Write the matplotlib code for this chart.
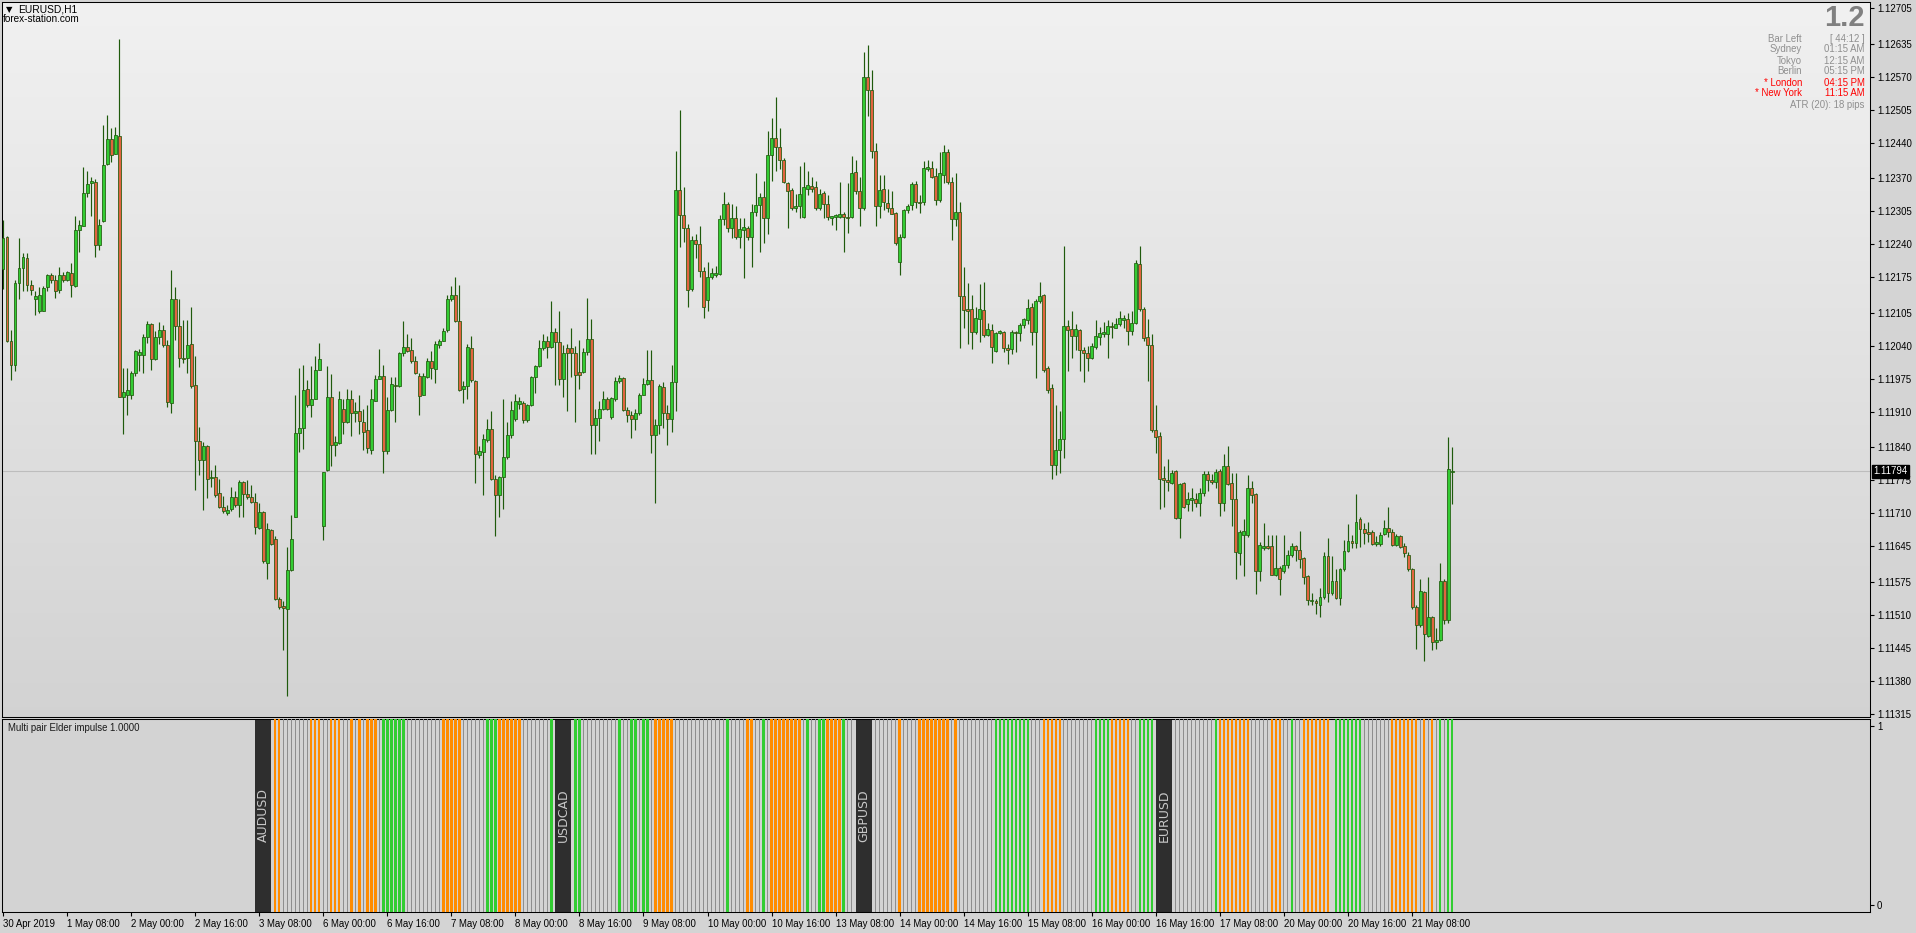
import numpy as np
import matplotlib
matplotlib.use("Agg")
import matplotlib.pyplot as plt

# ---------------- data (EURUSD H1, prices) ----------------
open_ = [1.12192,1.12254,1.12050,1.12003,1.12164,1.12194,1.12212,1.12159,1.12133,1.12108,1.12109,1.12156,1.12179,1.12170,1.12149,1.12180,1.12170,1.12183,1.12157,1.12268,
1.12276,1.12341,1.12360,1.12363,1.12238,1.12286,1.12397,1.12447,1.12417,1.12453,1.11940,1.11944,1.11944,1.11987,1.12021,1.12021,1.12057,1.12082,1.12013,1.12058,
1.12071,1.12042,1.11928,1.12132,1.12079,1.12015,1.12015,1.12043,1.11963,1.11852,1.11816,1.11842,1.11780,1.11781,1.11750,1.11722,1.11711,1.11718,1.11743,1.11727,
1.11772,1.11748,1.11742,1.11732,1.11682,1.11712,1.11613,1.11677,1.11659,1.11541,1.11527,1.11521,1.11599,1.11703,1.11868,1.11878,1.11955,1.11923,1.11935,1.11993,
1.11685,1.11796,1.11939,1.11844,1.11849,1.11915,1.11889,1.11935,1.11907,1.11911,1.11890,1.11874,1.11834,1.11932,1.11974,1.11981,1.11832,1.11913,1.11963,1.11961,
1.12026,1.12037,1.12031,1.12010,1.11981,1.11944,1.11979,1.12010,1.11995,1.12042,1.12049,1.12071,1.12132,1.12140,1.12088,1.11955,1.11960,1.12035,1.11971,1.11825,
1.11830,1.11854,1.11876,1.11778,1.11746,1.11781,1.11821,1.11865,1.11895,1.11926,1.11928,1.11893,1.11923,1.11979,1.12001,1.12035,1.12050,1.12038,1.12067,1.12047,
1.11975,1.12035,1.12035,1.12026,1.11989,1.11989,1.12027,1.12054,1.11884,1.11897,1.11915,1.11935,1.11899,1.11935,1.11971,1.11976,1.11913,1.11903,1.11895,1.11907,
1.11944,1.11965,1.11973,1.11865,1.11884,1.11959,1.11908,1.11895,1.11969,1.12346,1.12298,1.12272,1.12152,1.12248,1.12240,1.12188,1.12130,1.12176,1.12180,1.12181,
1.12290,1.12320,1.12271,1.12291,1.12254,1.12268,1.12271,1.12255,1.12304,1.12318,1.12333,1.12292,1.12415,1.12449,1.12431,1.12406,1.12360,1.12347,1.12311,1.12315,
1.12294,1.12349,1.12355,1.12353,1.12311,1.12341,1.12319,1.12292,1.12294,1.12294,1.12300,1.12294,1.12294,1.12382,1.12344,1.12312,1.12570,1.12543,1.12423,1.12315,
1.12349,1.12321,1.12312,1.12302,1.12204,1.12255,1.12307,1.12318,1.12359,1.12324,1.12323,1.12389,1.12390,1.12374,1.12326,1.12377,1.12421,1.12362,1.12290,1.12303,
1.12138,1.12112,1.12112,1.12067,1.12093,1.12110,1.12061,1.12071,1.12029,1.12066,1.12067,1.12035,1.12034,1.12067,1.12066,1.12081,1.12091,1.12116,1.12067,1.12128,
1.12139,1.11997,1.11957,1.11806,1.11834,1.11856,1.12079,1.12073,1.12059,1.12071,1.12031,1.12026,1.12015,1.12038,1.12058,1.12063,1.12063,1.12079,1.12075,1.12082,
1.12091,1.12093,1.12069,1.12085,1.12201,1.12112,1.12058,1.12042,1.11874,1.11862,1.11780,1.11776,1.11770,1.11793,1.11701,1.11770,1.11728,1.11736,1.11738,1.11730,
1.11750,1.11788,1.11776,1.11772,1.11793,1.11730,1.11804,1.11770,1.11738,1.11632,1.11667,1.11667,1.11760,1.11748,1.11597,1.11641,1.11645,1.11645,1.11589,1.11603,
1.11597,1.11608,1.11629,1.11645,1.11637,1.11623,1.11587,1.11537,1.11537,1.11529,1.11545,1.11627,1.11553,1.11576,1.11543,1.11600,1.11635,1.11656,1.11651,1.11698,
1.11680,1.11674,1.11674,1.11650,1.11650,1.11670,1.11682,1.11674,1.11648,1.11666,1.11645,1.11629,1.11600,1.11525,1.11490,1.11555,1.11469,1.11505,1.11457,1.11461,
1.11576,1.11501,1.11791]
high = [1.12288,1.12256,1.12071,1.12170,1.12252,1.12222,1.12223,1.12170,1.12148,1.12156,1.12157,1.12181,1.12183,1.12180,1.12196,1.12186,1.12188,1.12202,1.12296,1.12288,
1.12392,1.12385,1.12373,1.12369,1.12289,1.12474,1.12495,1.12469,1.12471,1.12643,1.11997,1.11997,1.11991,1.12031,1.12033,1.12063,1.12088,1.12085,1.12069,1.12087,
1.12081,1.12051,1.12190,1.12156,1.12132,1.12091,1.12091,1.12116,1.12019,1.11881,1.11850,1.11844,1.11796,1.11806,1.11778,1.11744,1.11726,1.11762,1.11754,1.11775,
1.11773,1.11775,1.11766,1.11750,1.11730,1.11715,1.11691,1.11680,1.11666,1.11545,1.11537,1.11643,1.11706,1.11944,1.11997,1.12003,1.11973,1.12001,1.12019,1.12045,
1.11792,1.12001,1.11985,1.11862,1.11951,1.11935,1.11955,1.11952,1.11929,1.11943,1.11915,1.11923,1.11955,1.11983,1.12034,1.12003,1.11939,1.11979,1.11979,1.12027,
1.12089,1.12064,1.12055,1.12019,1.11987,1.11987,1.12015,1.12029,1.12050,1.12054,1.12074,1.12140,1.12158,1.12176,1.12160,1.11971,1.12043,1.12059,1.11973,1.11842,
1.11866,1.11895,1.11911,1.11786,1.11784,1.11935,1.11890,1.11931,1.11945,1.11939,1.11931,1.11926,1.11981,1.12003,1.12051,1.12063,1.12059,1.12128,1.12074,1.12109,
1.12042,1.12043,1.12074,1.12039,1.12051,1.12035,1.12134,1.12093,1.11915,1.11931,1.11951,1.11939,1.11939,1.11979,1.11983,1.11979,1.11919,1.11911,1.11915,1.11947,
1.11977,1.12031,1.12031,1.11895,1.11965,1.11969,1.11923,1.12003,1.12423,1.12504,1.12353,1.12280,1.12256,1.12260,1.12276,1.12196,1.12204,1.12194,1.12197,1.12298,
1.12342,1.12324,1.12320,1.12316,1.12291,1.12292,1.12276,1.12320,1.12381,1.12341,1.12365,1.12463,1.12489,1.12529,1.12468,1.12409,1.12363,1.12350,1.12339,1.12393,
1.12402,1.12385,1.12373,1.12365,1.12349,1.12345,1.12337,1.12296,1.12300,1.12363,1.12304,1.12361,1.12413,1.12405,1.12373,1.12618,1.12632,1.12583,1.12439,1.12377,
1.12377,1.12349,1.12345,1.12304,1.12260,1.12310,1.12320,1.12363,1.12365,1.12337,1.12403,1.12406,1.12403,1.12390,1.12421,1.12435,1.12427,1.12373,1.12381,1.12323,
1.12196,1.12164,1.12140,1.12116,1.12162,1.12165,1.12085,1.12083,1.12067,1.12071,1.12069,1.12043,1.12071,1.12069,1.12085,1.12095,1.12133,1.12125,1.12133,1.12165,
1.12141,1.12001,1.11965,1.11924,1.11911,1.12236,1.12091,1.12109,1.12082,1.12073,1.12037,1.12039,1.12045,1.12090,1.12077,1.12087,1.12090,1.12087,1.12095,1.12108,
1.12101,1.12104,1.12109,1.12208,1.12236,1.12117,1.12093,1.12063,1.11923,1.11870,1.11804,1.11818,1.11796,1.11796,1.11770,1.11772,1.11752,1.11760,1.11750,1.11760,
1.11794,1.11794,1.11788,1.11798,1.11798,1.11826,1.11842,1.11790,1.11790,1.11678,1.11698,1.11786,1.11774,1.11750,1.11653,1.11691,1.11667,1.11667,1.11667,1.11607,
1.11667,1.11637,1.11651,1.11648,1.11675,1.11625,1.11589,1.11553,1.11541,1.11563,1.11633,1.11661,1.11627,1.11601,1.11603,1.11657,1.11690,1.11667,1.11748,1.11702,
1.11691,1.11694,1.11678,1.11666,1.11674,1.11696,1.11722,1.11680,1.11670,1.11667,1.11651,1.11633,1.11603,1.11529,1.11581,1.11557,1.11585,1.11507,1.11485,1.11613,
1.11581,1.11861,1.11841]
low = [1.12152,1.12047,1.11972,1.11991,1.12132,1.12148,1.12148,1.12140,1.12100,1.12104,1.12108,1.12148,1.12164,1.12135,1.12144,1.12165,1.12167,1.12136,1.12156,1.12224,
1.12276,1.12333,1.12296,1.12214,1.12228,1.12284,1.12395,1.12401,1.12417,1.11939,1.11866,1.11903,1.11935,1.11981,1.11991,1.11987,1.12045,1.11993,1.12011,1.12043,
1.12037,1.11919,1.11907,1.12051,1.11999,1.12007,1.11987,1.11956,1.11756,1.11786,1.11717,1.11740,1.11762,1.11743,1.11720,1.11711,1.11707,1.11714,1.11723,1.11702,
1.11702,1.11738,1.11730,1.11669,1.11680,1.11613,1.11581,1.11648,1.11539,1.11521,1.11441,1.11350,1.11597,1.11702,1.11830,1.11836,1.11919,1.11899,1.11935,1.11993,
1.11658,1.11794,1.11804,1.11822,1.11846,1.11866,1.11887,1.11862,1.11890,1.11866,1.11834,1.11828,1.11826,1.11931,1.11974,1.11789,1.11826,1.11911,1.11889,1.11958,
1.12019,1.12027,1.12007,1.11985,1.11903,1.11943,1.11977,1.11975,1.11967,1.12035,1.12049,1.12067,1.12128,1.12087,1.11951,1.11928,1.11935,1.11969,1.11770,1.11820,
1.11746,1.11850,1.11776,1.11666,1.11702,1.11718,1.11818,1.11858,1.11892,1.11915,1.11887,1.11890,1.11921,1.11947,1.11999,1.12031,1.12015,1.12035,1.11963,1.11963,
1.11939,1.11911,1.11979,1.11889,1.11955,1.11987,1.12021,1.11826,1.11826,1.11852,1.11913,1.11913,1.11895,1.11932,1.11967,1.11911,1.11890,1.11858,1.11874,1.11903,
1.11943,1.11963,1.11828,1.11731,1.11866,1.11878,1.11844,1.11870,1.11911,1.12234,1.12244,1.12117,1.12148,1.12212,1.12176,1.12095,1.12109,1.12172,1.12176,1.12180,
1.12278,1.12263,1.12252,1.12251,1.12232,1.12173,1.12248,1.12196,1.12296,1.12224,1.12242,1.12260,1.12365,1.12385,1.12389,1.12361,1.12272,1.12308,1.12304,1.12292,
1.12292,1.12337,1.12342,1.12308,1.12308,1.12292,1.12288,1.12278,1.12267,1.12291,1.12224,1.12262,1.12291,1.12339,1.12276,1.12308,1.12493,1.12409,1.12275,1.12291,
1.12308,1.12304,1.12299,1.12238,1.12180,1.12252,1.12302,1.12308,1.12312,1.12302,1.12318,1.12385,1.12371,1.12318,1.12324,1.12361,1.12358,1.12248,1.12276,1.12035,
1.12075,1.12043,1.12034,1.12063,1.12047,1.12058,1.12059,1.12007,1.12027,1.12063,1.12027,1.12005,1.12023,1.12027,1.12050,1.12075,1.12083,1.12041,1.11977,1.12125,
1.11989,1.11947,1.11778,1.11785,1.11790,1.11820,1.11991,1.12015,1.12031,1.11991,1.11969,1.11991,1.12013,1.12034,1.12042,1.12058,1.12015,1.12055,1.12074,1.12079,
1.12075,1.12042,1.12061,1.12083,1.12108,1.12050,1.11971,1.11870,1.11828,1.11718,1.11723,1.11754,1.11768,1.11699,1.11661,1.11720,1.11714,1.11714,1.11722,1.11704,
1.11744,1.11754,1.11768,1.11760,1.11704,1.11715,1.11766,1.11686,1.11581,1.11609,1.11587,1.11664,1.11730,1.11551,1.11576,1.11637,1.11640,1.11588,1.11587,1.11549,
1.11593,1.11603,1.11625,1.11617,1.11603,1.11571,1.11529,1.11529,1.11511,1.11505,1.11541,1.11535,1.11549,1.11541,1.11530,1.11597,1.11633,1.11641,1.11641,1.11643,
1.11650,1.11654,1.11648,1.11645,1.11645,1.11667,1.11664,1.11645,1.11645,1.11641,1.11625,1.11597,1.11521,1.11442,1.11487,1.11420,1.11466,1.11441,1.11442,1.11458,
1.11493,1.11495,1.11728]
close = [1.12252,1.12050,1.12003,1.12164,1.12194,1.12214,1.12160,1.12149,1.12138,1.12140,1.12154,1.12179,1.12169,1.12148,1.12179,1.12169,1.12185,1.12159,1.12268,1.12278,
1.12341,1.12359,1.12365,1.12239,1.12278,1.12396,1.12447,1.12415,1.12455,1.11940,1.11948,1.11952,1.11987,1.12030,1.12027,1.12057,1.12082,1.12013,1.12058,1.12071,
1.12042,1.11929,1.12132,1.12079,1.12015,1.12014,1.12041,1.11961,1.11852,1.11816,1.11842,1.11778,1.11782,1.11746,1.11722,1.11714,1.11717,1.11743,1.11727,1.11772,
1.11748,1.11742,1.11732,1.11683,1.11712,1.11617,1.11680,1.11650,1.11541,1.11525,1.11523,1.11599,1.11659,1.11868,1.11878,1.11953,1.11923,1.11935,1.11993,1.12014,
1.11792,1.11939,1.11844,1.11850,1.11935,1.11890,1.11935,1.11907,1.11911,1.11892,1.11871,1.11838,1.11935,1.11975,1.11981,1.11832,1.11913,1.11965,1.11960,1.12026,
1.12037,1.12030,1.12010,1.11987,1.11942,1.11981,1.12010,1.11997,1.12043,1.12049,1.12069,1.12133,1.12140,1.12088,1.11953,1.11960,1.12037,1.11973,1.11826,1.11833,
1.11857,1.11876,1.11778,1.11746,1.11782,1.11821,1.11865,1.11913,1.11931,1.11931,1.11894,1.11923,1.11979,1.12001,1.12035,1.12050,1.12038,1.12067,1.12047,1.11975,
1.12026,1.12026,1.12026,1.11982,1.11983,1.12027,1.12054,1.11884,1.11897,1.11915,1.11935,1.11916,1.11937,1.11971,1.11976,1.11913,1.11903,1.11895,1.11907,1.11944,
1.11965,1.11973,1.11865,1.11884,1.11961,1.11908,1.11895,1.11969,1.12346,1.12298,1.12272,1.12149,1.12248,1.12240,1.12188,1.12117,1.12176,1.12184,1.12184,1.12290,
1.12320,1.12272,1.12292,1.12254,1.12270,1.12273,1.12255,1.12304,1.12318,1.12333,1.12292,1.12415,1.12449,1.12431,1.12405,1.12362,1.12345,1.12311,1.12315,1.12339,
1.12353,1.12357,1.12349,1.12311,1.12339,1.12319,1.12294,1.12295,1.12298,1.12300,1.12294,1.12292,1.12381,1.12344,1.12312,1.12570,1.12543,1.12423,1.12316,1.12347,
1.12323,1.12312,1.12300,1.12242,1.12254,1.12307,1.12316,1.12359,1.12323,1.12322,1.12390,1.12392,1.12373,1.12326,1.12381,1.12421,1.12362,1.12290,1.12303,1.12138,
1.12111,1.12109,1.12067,1.12094,1.12112,1.12061,1.12073,1.12037,1.12066,1.12069,1.12035,1.12031,1.12067,1.12066,1.12081,1.12093,1.12114,1.12067,1.12129,1.12137,
1.11993,1.11953,1.11806,1.11834,1.11856,1.12079,1.12071,1.12059,1.12073,1.12031,1.12026,1.12015,1.12039,1.12059,1.12066,1.12067,1.12079,1.12077,1.12083,1.12094,
1.12094,1.12069,1.12085,1.12202,1.12112,1.12055,1.12042,1.11874,1.11860,1.11778,1.11776,1.11772,1.11790,1.11701,1.11768,1.11723,1.11738,1.11740,1.11730,1.11750,
1.11788,1.11776,1.11772,1.11792,1.11730,1.11804,1.11768,1.11738,1.11633,1.11674,1.11675,1.11760,1.11746,1.11597,1.11648,1.11645,1.11641,1.11589,1.11603,1.11581,
1.11609,1.11629,1.11645,1.11637,1.11621,1.11585,1.11539,1.11540,1.11533,1.11545,1.11627,1.11553,1.11576,1.11543,1.11600,1.11635,1.11656,1.11651,1.11694,1.11680,
1.11672,1.11670,1.11650,1.11654,1.11667,1.11682,1.11674,1.11648,1.11666,1.11643,1.11632,1.11600,1.11525,1.11490,1.11557,1.11473,1.11505,1.11457,1.11461,1.11577,
1.11501,1.11798,1.11794]

time_labels = ["30 Apr 2019", "1 May 08:00", "2 May 00:00", "2 May 16:00", "3 May 08:00",
               "6 May 00:00", "6 May 16:00", "7 May 08:00", "8 May 00:00", "8 May 16:00",
               "9 May 08:00", "10 May 00:00", "10 May 16:00", "13 May 08:00", "14 May 00:00",
               "14 May 16:00", "15 May 08:00", "16 May 00:00", "16 May 16:00", "17 May 08:00",
               "20 May 00:00", "20 May 16:00", "21 May 08:00"]
price_ticks = [1.12705, 1.12635, 1.12570, 1.12505, 1.12440, 1.12370, 1.12305, 1.12240,
               1.12175, 1.12105, 1.12040, 1.11975, 1.11910, 1.11840, 1.11775, 1.11710,
               1.11645, 1.11575, 1.11510, 1.11445, 1.11380, 1.11315]
last_price = 1.11794

# Multi pair Elder impulse: o = orange (down), g = gray (neutral), G = green (up)
pairs = ["AUDUSD", "USDCAD", "GBPUSD", "EURUSD"]
impulse = {
    "AUDUSD": "oo" + "ggggggg" + "ooo" + "gg" + "ooo" + "gg" + "o" + "g" + "o" + "g" + "ooo" + "g"
              + "GGGGGG" + "ggggggggg" + "ooooo" + "gggggg" + "GGG" + "oooooo" + "ggggggg" + "G",
    "USDCAD": "GG" + "ggggggggg" + "G" + "gg" + "GG" + "g" + "GG" + "g" + "ooooo" + "ggggggggggggg"
              + "G" + "gggg" + "oo" + "gg" + "G" + "g" + "oooooooo" + "g" + "G" + "gg" + "GG" + "oooo" + "G" + "gg",
    "GBPUSD": "gggggg" + "o" + "gggg" + "oooooooo" + "g" + "o" + "ggggggggg" + "GGGGGGGGG" + "ggg"
              + "ooooo" + "gggggggg" + "GGGG" + "ooooo" + "gg" + "GGGG",
    "EURUSD": "gggggggggg" + "G" + "oooooooo" + "ggggg" + "ooo" + "gg" + "G" + "gg" + "ooooooo" + "g"
              + "GGGGGGG" + "ggggggg" + "ooooooo" + "g" + "o" + "g" + "o" + "g" + "G" + "g" + "GG",
}
pair_label_bar = [65, 140, 215, 290]   # bar index of each pair's dark label column

# ---------------- figure ----------------
W, H, DPI = 1916, 933, 100
BG = "#d4d4d4"
plt.rcParams['font.family'] = ['Liberation Sans', 'DejaVu Sans']
fig = plt.figure(figsize=(W / DPI, H / DPI), dpi=DPI, facecolor=BG)

BAR_DX, X0 = 4.003, 3.0          # px per bar, px of bar 0
XMIN, XMAX = (2 - X0) / BAR_DX, (1870 - X0) / BAR_DX
FS = 6.9
SPW = 0.75

def box(x0, y0, x1, y1):
    return [x0 / W, 1 - y1 / H, (x1 - x0) / W, (y1 - y0) / H]

# ---- main price panel ----
ax = fig.add_axes(box(2, 2, 1870, 717))
ymax = 1.12705 + 6 * 1.9688e-5
ymin = 1.11315 - 3 * 1.9688e-5
grad = np.linspace(0, 1, 256)[:, None]
top_c, bot_c = np.array([0.945, 0.945, 0.945]), np.array([0.826, 0.826, 0.826])
img = top_c[None, None, :] * (1 - grad[:, :, None]) + bot_c[None, None, :] * grad[:, :, None]
ax.imshow(img, extent=[0, 1, 0, 1], transform=ax.transAxes, aspect='auto', zorder=0,
          interpolation='bilinear')
ax.set_xlim(XMIN, XMAX)
ax.set_ylim(ymin, ymax)

O, Hh, L, C = map(np.asarray, (open_, high, low, close))
x = np.arange(len(O))
up = C >= O
WICK = "#1f5a0c"
ax.axhline(last_price, color="#bdbdbd", lw=0.8, zorder=1)
ax.vlines(x, L, Hh, color=WICK, lw=0.85, zorder=2)
bh = np.maximum(np.abs(C - O), 1.2e-5)
ax.bar(x, bh, bottom=np.minimum(O, C), width=0.74,
       color=np.where(up, "#33cc33", "#e2643f"), edgecolor=WICK, linewidth=0.55, zorder=3)

ax.yaxis.tick_right()
ax.set_yticks(price_ticks)
ax.set_yticklabels([f"{v:.5f}" for v in price_ticks])
ax.tick_params(axis='y', direction='out', length=3, width=0.8, pad=2, labelsize=FS, colors='black')
ax.set_xticks([])
for s in ax.spines.values():
    s.set_color('black'); s.set_linewidth(SPW)

# last price marker
fig.text(1873 / W, 1 - 471.5 / H, f"{last_price:.5f}", fontsize=FS, color='white',
         ha='left', va='center',
         bbox=dict(boxstyle='square,pad=0.15', fc='black', ec='black'))

# ---- indicator panel ----
ax2 = fig.add_axes(box(2, 719, 1870, 912))
ax2.set_facecolor("#d3d3d3")
ax2.set_xlim(XMIN, XMAX)
ylo, yhi = -0.039, 1.039
ax2.set_ylim(ylo, yhi)
cmap = {"o": "#ff8c00", "g": "#8e8e8e", "G": "#32cd32"}
for name, c0 in zip(pairs, pair_label_bar):
    ax2.bar(c0, yhi - ylo, bottom=ylo, width=4.0, color="#2e2e2e", zorder=2)
    ax2.text(c0, 0.5, name, rotation=90, ha='center', va='center', color="#c8c8c8",
             fontsize=9, family='DejaVu Sans', zorder=3)
    seq = impulse[name]
    idx = np.arange(c0 + 3, c0 + 3 + len(seq))
    kinds = np.array(list(seq))
    for k, w in (("o", 0.62), ("G", 0.62), ("g", 0.24)):
        m = kinds == k
        ax2.bar(idx[m], yhi - ylo, bottom=ylo, width=w, color=cmap[k], zorder=3,
                linewidth=0)

ax2.yaxis.tick_right()
ax2.set_yticks([0, 1])
ax2.set_yticklabels(["0", "1"])
ax2.tick_params(axis='y', direction='out', length=3, width=0.8, pad=2, labelsize=FS)
ax2.set_xticks(np.arange(len(time_labels)) * 16)
ax2.set_xticklabels(time_labels, ha='left')
ax2.tick_params(axis='x', direction='out', length=3, width=0.8, pad=2, labelsize=FS)
for s in ax2.spines.values():
    s.set_color('black'); s.set_linewidth(SPW)
ax2.text(0.003, 0.955, "Multi pair Elder impulse 1.0000", transform=ax2.transAxes,
         fontsize=FS, color="#1a1a1a", ha='left', va='center')

# ---- header texts ----
fig.text(6 / W, 1 - 10 / H, "\u25BC", fontsize=6, family='DejaVu Sans', ha='left', va='center')
fig.text(18 / W, 1 - 10 / H, "EURUSD,H1", fontsize=7.4, ha='left', va='center', color='black')
fig.text(3 / W, 1 - 19.5 / H, "forex-station.com", fontsize=7.2, ha='left', va='center', color='black')

fig.text(1865 / W, 1 - 18 / H, "1.2", fontsize=21, fontweight='bold', color="#808080",
         ha='right', va='center')
rows = [("Bar Left", "[ 44:12 ]", "#8f8f8f"), ("Sydney", "01:15 AM", "#8f8f8f"),
        ("Tokyo", "12:15 AM", "#8f8f8f"), ("Berlin", "05:15 PM", "#8f8f8f"),
        ("* London", "04:15 PM", "#ff0000"), ("* New York", "11:15 AM", "#ff0000")]
for k, (lab, val, col) in enumerate(rows):
    yy = 38.5 + k * 11
    fig.text(1802 / W, 1 - yy / H, lab, fontsize=FS, color=col, ha='right', va='center')
    fig.text(1864.5 / W, 1 - yy / H, val, fontsize=FS, color=col, ha='right', va='center')
fig.text(1864.5 / W, 1 - 105 / H, "ATR (20): 18 pips", fontsize=FS, color="#8f8f8f",
         ha='right', va='center')

fig.savefig("out.png", dpi=DPI, facecolor=BG)
